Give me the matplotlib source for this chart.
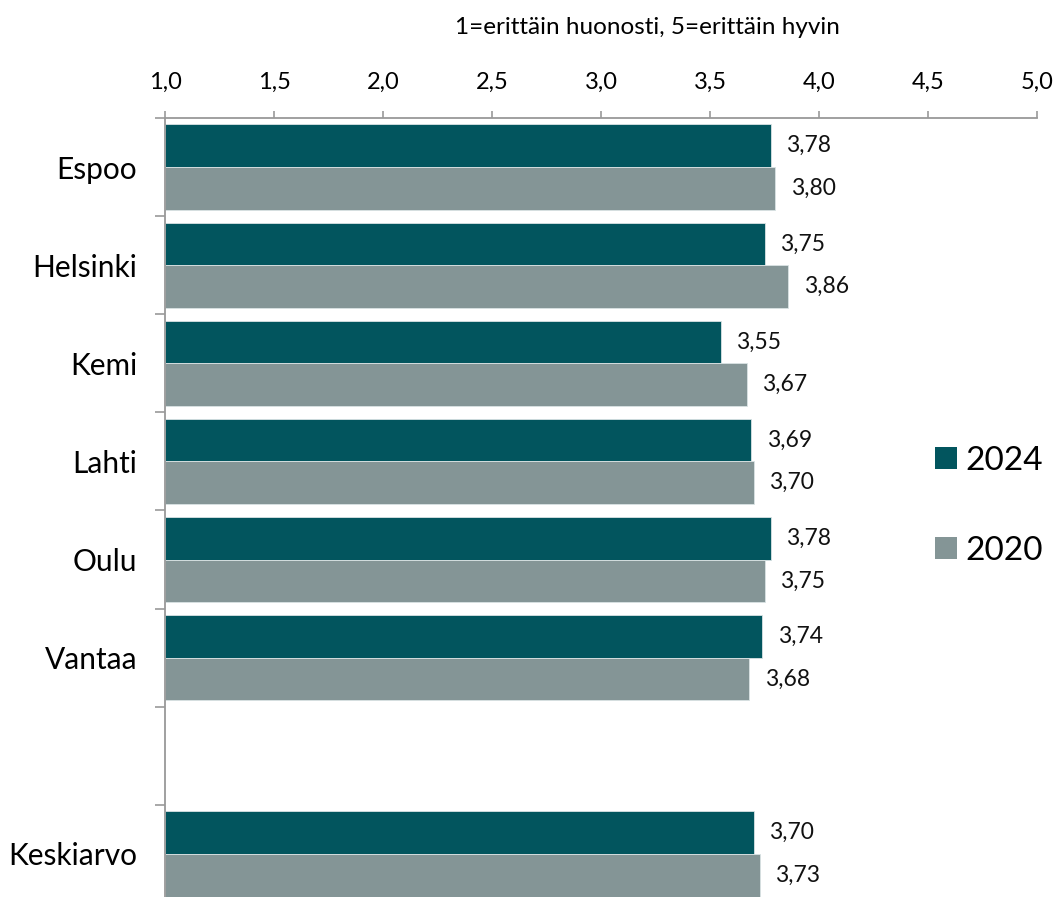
import matplotlib
matplotlib.use("Agg")
import matplotlib.pyplot as plt
import numpy as np
from matplotlib.patches import Patch

categories = ["Espoo", "Helsinki", "Kemi", "Lahti", "Oulu", "Vantaa", "", "Keskiarvo"]
values_2024 = [3.78, 3.75, 3.55, 3.69, 3.78, 3.74, None, 3.70]
values_2020 = [3.80, 3.86, 3.67, 3.70, 3.75, 3.68, None, 3.73]
series_labels = ["2024", "2020"]
x_ticks = [1.0, 1.5, 2.0, 2.5, 3.0, 3.5, 4.0, 4.5, 5.0]
title = "1=erittäin huonosti, 5=erittäin hyvin"

c2024 = "#02555E"
c2020 = "#849596"
plt.rcParams['font.family'] = ['Lato', 'DejaVu Sans']

W, H = 1055, 897
fig = plt.figure(figsize=(W / 100, H / 100), dpi=100)
ax_left, ax_right, ax_top, ax_bottom = 165, 1037, 118, 903
ax = fig.add_axes([ax_left / W, (H - ax_bottom) / H, (ax_right - ax_left) / W, (ax_bottom - ax_top) / H])

n = len(categories)
pos = np.arange(n)
bh = 0.435
for i in range(n):
    if values_2024[i] is None:
        continue
    v1, v2 = values_2024[i], values_2020[i]
    ax.barh(pos[i] - bh / 2, v1 - 1.0, left=1.0, height=bh, color=c2024, edgecolor="#d9e3e4", linewidth=0.6)
    ax.barh(pos[i] + bh / 2, v2 - 1.0, left=1.0, height=bh, color=c2020, edgecolor="#d9e3e4", linewidth=0.6)
    for v, y in ((v1, pos[i] - bh / 2), (v2, pos[i] + bh / 2)):
        ax.annotate(f"{v:.2f}".replace(".", ","), (v, y), xytext=(11, 0), textcoords="offset points",
                    ha="left", va="center", fontsize=16.5, color="#111111")

ax.set_xlim(1.0, 5.0)
ax.set_ylim(n - 0.5, -0.5)
ax.xaxis.tick_top()
ax.set_xticks(x_ticks)
ax.set_xticklabels([f"{t:.1f}".replace(".", ",") for t in x_ticks], fontsize=17)
ax.tick_params(axis="x", direction="out", length=5, color="#999999", width=1.2, pad=13)

ax.set_yticks(pos)
ax.set_yticklabels(categories, fontsize=21.5)
ax.tick_params(axis="y", which="major", length=0, pad=20)
ax.set_yticks(np.arange(n + 1) - 0.5, minor=True)
ax.tick_params(axis="y", which="minor", length=7, color="#999999", width=1.2)

for s in ["right", "bottom"]:
    ax.spines[s].set_visible(False)
for s in ["left", "top"]:
    ax.spines[s].set_color("#999999")
    ax.spines[s].set_linewidth(1.3)

fig.text(647 / W, 1 - 28 / H, title, ha="center", va="center", fontsize=17.5)

handles = [Patch(facecolor=c2024), Patch(facecolor=c2020)]
fig.legend(handles, series_labels, loc="center left", bbox_to_anchor=(935 / W, 1 - 506 / H),
           frameon=False, fontsize=24, handlelength=0.65, handleheight=0.65, borderpad=0,
           borderaxespad=0, handletextpad=0.25, labelspacing=1.8)

fig.savefig("out.png", dpi=100)
